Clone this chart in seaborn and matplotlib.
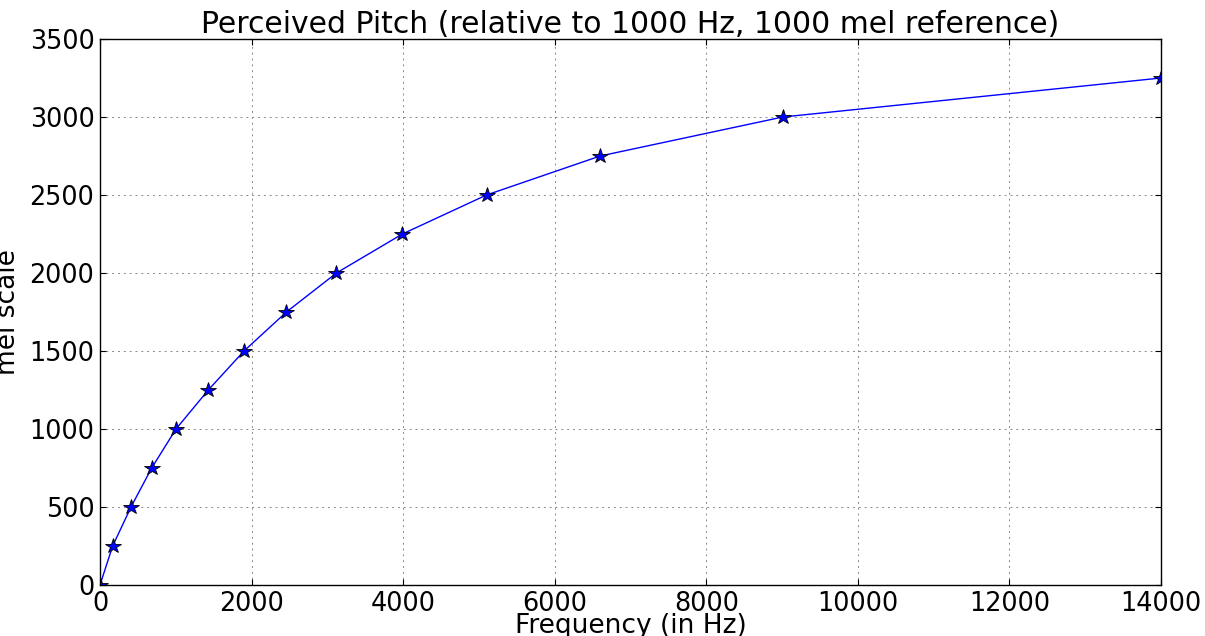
import matplotlib
matplotlib.use("Agg")
import matplotlib.pyplot as plt
import seaborn as sns
import pandas as pd

# Frequency (Hz) at which each mel step is perceived
frequency_hz = [0, 167, 409, 682, 1003, 1429, 1900, 2460, 3120, 3990, 5100, 6600, 9010, 14000]
mel_values = [0, 250, 500, 750, 1000, 1250, 1500, 1750, 2000, 2250, 2500, 2750, 3000, 3250]

x_ticks = [0, 2000, 4000, 6000, 8000, 10000, 12000, 14000]
y_ticks = [0, 500, 1000, 1500, 2000, 2500, 3000, 3500]

sns.set_style("ticks")
plt.rcParams["font.family"] = ["DejaVu Sans"]
plt.rcParams["text.color"] = "black"
plt.rcParams["axes.labelcolor"] = "black"

df = pd.DataFrame({"freq": frequency_hz, "mel": mel_values})

fig = plt.figure(figsize=(12.05, 6.36), dpi=100)
ax = fig.add_axes([100 / 1205, 1 - 585 / 636, 1061 / 1205, 546 / 636])

sns.lineplot(data=df, x="freq", y="mel", ax=ax, color="blue", linewidth=1.0,
             marker="*", markersize=11.5, markerfacecolor="blue",
             markeredgecolor="black", markeredgewidth=0.6, sort=False)

ax.set_xlim(0, 14000)
ax.set_ylim(0, 3500)
ax.set_xticks(x_ticks)
ax.set_yticks(y_ticks)
ax.grid(True, linestyle=(0, (2, 4)), color="#888888", linewidth=0.7)
ax.set_axisbelow(True)

for side in ["top", "right", "bottom", "left"]:
    ax.spines[side].set_visible(True)
    ax.spines[side].set_color("black")
    ax.spines[side].set_linewidth(1.0)

ax.tick_params(direction="in", top=True, right=True, length=4, width=0.8,
               labelsize=18.4, colors="black")
ax.tick_params(axis="x", pad=4.5)
ax.tick_params(axis="y", pad=4)

ax.set_title("Perceived Pitch (relative to 1000 Hz, 1000 mel reference)",
             fontsize=21.5, pad=4, color="black")
ax.set_xlabel("Frequency (in Hz)", fontsize=19, color="black")
ax.set_ylabel("mel scale", fontsize=19, color="black")
ax.xaxis.set_label_coords(0.5, -0.052)
ax.yaxis.set_label_coords(-0.0745, 0.5)

fig.savefig("out.png", dpi=100)
